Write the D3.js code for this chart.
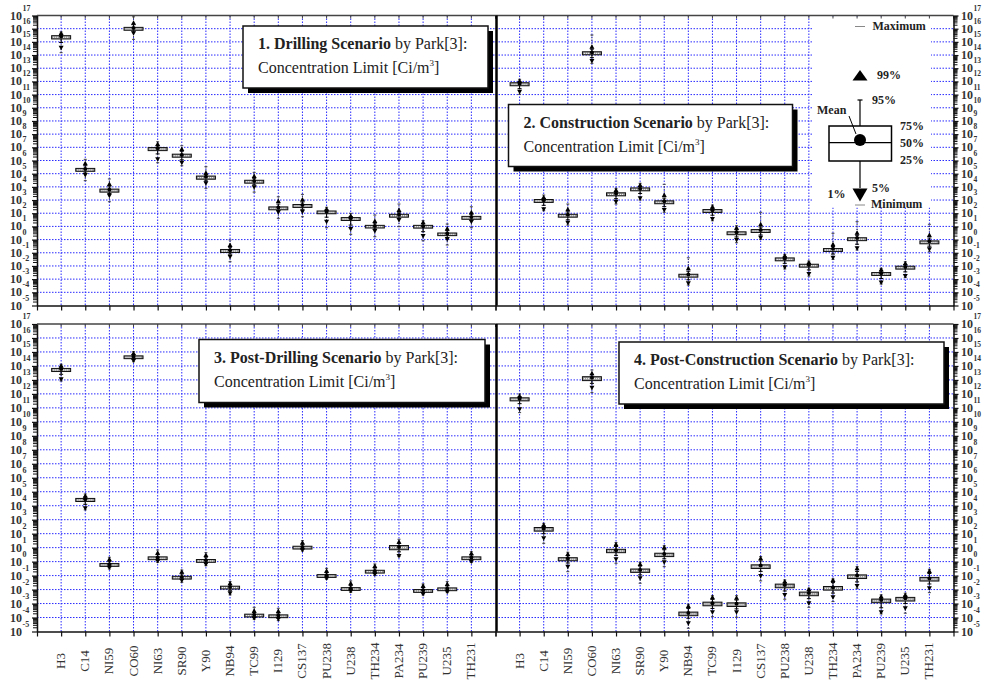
<!DOCTYPE html>
<html>
<head>
<meta charset="utf-8">
<script src="https://cdn.jsdelivr.net/npm/d3@7"></script>
<style>
  body { margin: 0; background: #fff; }
  text { font-family: "Liberation Serif", "Times New Roman", serif; }
</style>
</head>
<body>
<svg id="chart" width="982" height="686" font-family="Liberation Serif, serif"></svg>
<script>
// nuclides on the x axis
const nuclides = ["H3", "C14", "NI59", "CO60", "NI63", "SR90", "Y90", "NB94", "TC99",
  "I129", "CS137", "PU238", "U238", "TH234", "PA234", "PU239", "U235", "TH231"];

// log10 of concentration limit [Ci/m3]; each row:
// min, 1%, 5%, 25%, 50%, 75%, 95%, 99%, max, mean
const statKeys = ["min", "p1", "p5", "q25", "median", "q75", "p95", "p99", "max", "mean"];

const drilling = [
  [14.18, 14.56, 14.95, 15.22, 15.35, 15.47, 15.58, 15.65, 15.75, 15.40],
  [4.47, 4.90, 5.05, 5.18, 5.28, 5.40, 5.60, 5.79, 6.09, 5.35],
  [2.87, 3.33, 3.50, 3.60, 3.71, 3.83, 4.00, 4.22, 4.60, 3.78],
  [15.19, 15.65, 15.82, 15.88, 15.98, 16.10, 16.30, 16.45, 16.90, 16.05],
  [5.83, 6.09, 6.50, 6.75, 6.87, 6.98, 7.10, 7.25, 7.42, 6.92],
  [5.60, 5.83, 6.05, 6.25, 6.36, 6.48, 6.70, 6.87, 7.12, 6.42],
  [3.89, 4.27, 4.45, 4.58, 4.70, 4.82, 4.95, 5.07, 5.53, 4.76],
  [-1.68, -1.30, -1.10, -0.98, -0.87, -0.75, -0.58, -0.41, -0.03, -0.80],
  [3.60, 3.98, 4.15, 4.28, 4.39, 4.50, 4.65, 4.82, 5.10, 4.45],
  [1.61, 2.07, 2.20, 2.26, 2.37, 2.48, 2.70, 2.93, 3.25, 2.44],
  [1.73, 2.11, 2.30, 2.44, 2.55, 2.66, 2.85, 3.05, 3.43, 2.62],
  [0.90, 1.36, 1.70, 1.96, 2.07, 2.17, 2.25, 2.32, 2.45, 2.12],
  [0.40, 0.80, 1.10, 1.45, 1.56, 1.67, 1.75, 1.81, 1.99, 1.62],
  [0.22, 0.65, 0.80, 0.88, 0.98, 1.08, 1.25, 1.41, 1.86, 1.04],
  [0.98, 1.48, 1.60, 1.70, 1.81, 1.92, 2.08, 2.24, 2.70, 1.88],
  [-0.09, 0.27, 0.60, 0.87, 0.98, 1.08, 1.20, 1.31, 1.43, 1.02],
  [-0.41, 0.02, 0.15, 0.30, 0.40, 0.50, 0.68, 0.85, 1.18, 0.46],
  [0.90, 1.36, 1.48, 1.54, 1.65, 1.76, 1.92, 2.07, 2.49, 1.72]
];

const construction = [
  [11.02, 11.22, 11.45, 11.67, 11.78, 11.90, 11.97, 12.03, 12.16, 11.83],
  [2.19, 2.30, 2.60, 2.82, 2.93, 3.04, 3.12, 3.21, 3.38, 2.98],
  [1.10, 1.28, 1.50, 1.70, 1.81, 1.92, 2.10, 2.30, 2.70, 1.88],
  [13.37, 13.55, 13.80, 14.02, 14.13, 14.25, 14.45, 14.63, 15.52, 14.20],
  [2.70, 2.87, 3.10, 3.32, 3.43, 3.55, 3.65, 3.76, 3.89, 3.50],
  [3.00, 3.13, 3.50, 3.70, 3.81, 3.92, 4.03, 4.14, 4.27, 3.86],
  [2.07, 2.24, 2.50, 2.72, 2.83, 2.94, 3.15, 3.38, 4.19, 2.90],
  [-3.45, -3.32, -3.05, -2.85, -2.74, -2.63, -2.40, -2.18, -1.38, -2.65],
  [1.43, 1.56, 1.85, 2.06, 2.17, 2.28, 2.38, 2.49, 2.62, 2.22],
  [-0.24, -0.03, 0.20, 0.37, 0.48, 0.59, 0.75, 0.90, 1.05, 0.55],
  [0.02, 0.14, 0.35, 0.54, 0.65, 0.76, 0.95, 1.16, 2.07, 0.72],
  [-2.23, -2.10, -1.80, -1.61, -1.50, -1.39, -1.30, -1.22, -1.12, -1.44],
  [-2.77, -2.61, -2.30, -2.09, -1.98, -1.87, -1.80, -1.73, -1.63, -1.92],
  [-1.50, -1.38, -1.10, -0.90, -0.79, -0.68, -0.52, -0.36, 0.48, -0.70],
  [-0.79, -0.66, -0.35, -0.08, 0.03, 0.14, 0.33, 0.52, 1.36, 0.12],
  [-3.37, -3.25, -2.95, -2.72, -2.61, -2.50, -2.38, -2.26, -2.18, -2.55],
  [-2.87, -2.77, -2.45, -2.24, -2.13, -2.02, -1.90, -1.80, -1.68, -2.07],
  [-0.92, -0.73, -0.50, -0.32, -0.21, -0.10, 0.12, 0.35, 1.16, -0.12]
];

const postDrilling = [
  [12.92, 13.04, 13.40, 13.60, 13.71, 13.82, 13.93, 14.02, 14.12, 13.78],
  [3.70, 3.82, 4.10, 4.30, 4.41, 4.52, 4.62, 4.72, 4.84, 4.46],
  [-0.53, -0.43, -0.38, -0.34, -0.24, -0.14, 0.02, 0.17, 0.31, -0.18],
  [14.30, 14.38, 14.45, 14.52, 14.62, 14.72, 14.82, 14.90, 15.02, 14.66],
  [-0.05, 0.05, 0.10, 0.14, 0.24, 0.34, 0.50, 0.64, 0.83, 0.30],
  [-1.48, -1.36, -1.28, -1.25, -1.15, -1.05, -0.88, -0.72, -0.60, -1.10],
  [-0.29, -0.19, -0.10, -0.05, 0.05, 0.15, 0.32, 0.48, 0.64, 0.10],
  [-2.38, -2.26, -2.05, -1.96, -1.86, -1.76, -1.65, -1.55, -1.43, -1.82],
  [-4.12, -4.05, -4.00, -3.96, -3.86, -3.76, -3.64, -3.51, -3.27, -3.80],
  [-4.22, -4.10, -4.05, -4.01, -3.91, -3.81, -3.68, -3.53, -3.34, -3.85],
  [0.76, 0.83, 0.87, 0.90, 1.00, 1.10, 1.24, 1.36, 1.50, 1.05],
  [-1.26, -1.19, -1.16, -1.13, -1.03, -0.93, -0.78, -0.65, -0.48, -0.98],
  [-2.20, -2.10, -2.08, -2.06, -1.96, -1.86, -1.70, -1.55, -1.38, -1.90],
  [-0.98, -0.90, -0.85, -0.82, -0.72, -0.62, -0.46, -0.31, -0.17, -0.68],
  [0.36, 0.40, 0.70, 0.85, 1.00, 1.15, 1.30, 1.43, 1.60, 1.05],
  [-2.38, -2.31, -2.25, -2.20, -2.10, -2.00, -1.85, -1.72, -1.60, -2.05],
  [-2.22, -2.15, -2.10, -2.08, -1.98, -1.88, -1.74, -1.60, -1.43, -1.94],
  [-0.07, 0.00, 0.10, 0.14, 0.24, 0.34, 0.48, 0.60, 0.71, 0.30]
];

const postConstruction = [
  [10.66, 10.90, 11.30, 11.50, 11.61, 11.72, 11.80, 11.85, 11.99, 11.66],
  [1.31, 1.67, 2.00, 2.18, 2.31, 2.44, 2.55, 2.62, 2.74, 2.36],
  [-0.72, -0.36, -0.10, 0.06, 0.17, 0.28, 0.42, 0.55, 0.67, 0.22],
  [12.09, 12.44, 12.75, 12.95, 13.09, 13.23, 13.37, 13.47, 13.71, 13.15],
  [-0.12, 0.17, 0.45, 0.64, 0.76, 0.88, 1.08, 1.24, 1.36, 0.82],
  [-1.55, -1.19, -0.95, -0.77, -0.65, -0.53, -0.32, -0.17, -0.05, -0.60],
  [-0.36, -0.05, 0.20, 0.36, 0.48, 0.60, 0.85, 1.03, 1.14, 0.55],
  [-4.77, -4.41, -4.05, -3.87, -3.74, -3.61, -3.35, -3.17, -3.05, -3.68],
  [-3.94, -3.62, -3.35, -3.16, -3.03, -2.90, -2.70, -2.55, -2.44, -2.97],
  [-3.98, -3.62, -3.38, -3.21, -3.08, -2.95, -2.75, -2.58, -2.44, -3.02],
  [-1.38, -1.03, -0.70, -0.49, -0.36, -0.23, 0.05, 0.24, 0.36, -0.28],
  [-2.69, -2.38, -2.10, -1.87, -1.74, -1.61, -1.50, -1.43, -1.31, -1.68],
  [-3.27, -2.98, -2.65, -2.44, -2.31, -2.18, -2.06, -1.98, -1.91, -2.25],
  [-2.86, -2.55, -2.25, -2.04, -1.91, -1.78, -1.50, -1.31, -1.24, -1.85],
  [-1.91, -1.74, -1.45, -1.21, -1.08, -0.95, -0.70, -0.48, -0.36, -1.00],
  [-3.74, -3.62, -3.30, -2.94, -2.81, -2.68, -2.60, -2.50, -2.38, -2.75],
  [-3.69, -3.34, -3.00, -2.82, -2.69, -2.56, -2.46, -2.38, -2.26, -2.62],
  [-2.22, -1.91, -1.60, -1.39, -1.26, -1.13, -0.85, -0.67, -0.55, -1.20]
];

const scenarioTitles = ["1. Drilling Scenario", "2. Construction Scenario",
  "3. Post-Drilling Scenario", "4. Post-Construction Scenario"];

const svg = d3.select("#chart");

const panels = [
  { data: drilling, x0: 37, x1: 495.5, y0: 15.5, y1: 305.5,
    box: { x: 243, y: 26, w: 245, h: 62 } },
  { data: construction, x0: 495.5, x1: 953.5, y0: 15.5, y1: 305.5,
    box: { x: 508.5, y: 104.5, w: 284, h: 62 } },
  { data: postDrilling, x0: 37, x1: 495.5, y0: 324, y1: 631.5,
    box: { x: 199, y: 339.5, w: 286, h: 63 } },
  { data: postConstruction, x0: 495.5, x1: 953.5, y0: 324, y1: 631.5,
    box: { x: 619, y: 342, w: 325, h: 62 } }
];

const majors = d3.range(-5, 18).map(e => Math.pow(10, e));
const minors = [];
d3.range(-5, 17).forEach(e => d3.range(2, 10).forEach(m => minors.push(m * Math.pow(10, e))));

panels.forEach((p, pi) => {
  const x = d3.scaleLinear().domain([0, 19]).range([p.x0, p.x1]);
  const y = d3.scaleLog().domain([1e-5, 1e17]).range([p.y1, p.y0]);
  const yv = e => y(Math.pow(10, e));
  const g = svg.append("g");

  // grid
  g.selectAll(".hgrid").data(d3.range(-4, 17)).enter().append("line")
    .attr("x1", p.x0).attr("x2", p.x1)
    .attr("y1", d => yv(d)).attr("y2", d => yv(d))
    .attr("stroke", "#2a2aff").attr("stroke-width", 1).attr("stroke-dasharray", "1.5,1.5");
  g.selectAll(".vgrid").data(d3.range(1, 19)).enter().append("line")
    .attr("x1", d => x(d)).attr("x2", d => x(d))
    .attr("y1", p.y0).attr("y2", p.y1)
    .attr("stroke", "#2a2aff").attr("stroke-width", 1).attr("stroke-dasharray", "1.5,1.5");

  // legend background (construction panel)
  if (pi === 1) {
    g.append("rect").attr("x", 812).attr("y", 16.5).attr("width", 119).attr("height", 191)
      .attr("fill", "#fff");
  }

  const rows = p.data.map((r, i) => {
    const o = { name: nuclides[i], pos: i + 1 };
    statKeys.forEach((k, j) => o[k] = r[j]);
    return o;
  });

  const bx = g.selectAll(".bp").data(rows).enter().append("g");

  // min..max dotted
  bx.append("line")
    .attr("x1", d => x(d.pos)).attr("x2", d => x(d.pos))
    .attr("y1", d => yv(d.min)).attr("y2", d => yv(d.max))
    .attr("stroke", "#333").attr("stroke-width", 1).attr("stroke-dasharray", "1,1.5");
  // 5%..95% whisker
  bx.append("line")
    .attr("x1", d => x(d.pos)).attr("x2", d => x(d.pos))
    .attr("y1", d => yv(d.p5)).attr("y2", d => yv(d.p95))
    .attr("stroke", "#000").attr("stroke-width", 1);
  ["p5", "p95"].forEach(k => {
    bx.append("line")
      .attr("x1", d => x(d.pos) - 2).attr("x2", d => x(d.pos) + 2)
      .attr("y1", d => yv(d[k])).attr("y2", d => yv(d[k]))
      .attr("stroke", "#000").attr("stroke-width", 1);
  });
  ["min", "max"].forEach(k => {
    bx.append("line")
      .attr("x1", d => x(d.pos) - 1.5).attr("x2", d => x(d.pos) + 1.5)
      .attr("y1", d => yv(d[k])).attr("y2", d => yv(d[k]))
      .attr("stroke", "#444").attr("stroke-width", 1);
  });
  // box 25%..75%
  bx.append("rect")
    .attr("x", d => x(d.pos) - 9.5).attr("width", 19)
    .attr("y", d => yv(d.q75)).attr("height", d => yv(d.q25) - yv(d.q75))
    .attr("fill", "#999").attr("stroke", "#111").attr("stroke-width", 1);
  bx.append("line")
    .attr("x1", d => x(d.pos) - 8).attr("x2", d => x(d.pos) + 8)
    .attr("y1", d => yv(d.median)).attr("y2", d => yv(d.median))
    .attr("stroke", "#fff").attr("stroke-width", 1).attr("stroke-dasharray", "1,1");
  // 1% / 99% triangles
  bx.append("path")
    .attr("d", d => { const cx = x(d.pos), cy = yv(d.p99); return `M${cx - 2.5},${cy + 2} L${cx + 2.5},${cy + 2} L${cx},${cy - 2.5} Z`; })
    .attr("fill", "#000");
  bx.append("path")
    .attr("d", d => { const cx = x(d.pos), cy = yv(d.p1); return `M${cx - 2.5},${cy - 2} L${cx + 2.5},${cy - 2} L${cx},${cy + 2.5} Z`; })
    .attr("fill", "#000");
  // mean
  bx.append("circle")
    .attr("cx", d => x(d.pos)).attr("cy", d => yv(d.mean)).attr("r", 2)
    .attr("fill", "#000");

  // frame: top line
  g.append("line").attr("x1", p.x0).attr("x2", p.x1).attr("y1", p.y0).attr("y2", p.y0)
    .attr("stroke", "#444").attr("stroke-width", 1.5);
  g.selectAll(".ttick").data(d3.range(0, 20)).enter().append("line")
    .attr("x1", d => x(d)).attr("x2", d => x(d)).attr("y1", p.y0).attr("y2", p.y0 + 3)
    .attr("stroke", "#444");

  // bottom axis
  const xAxis = g.append("g").attr("transform", `translate(0,${p.y1})`)
    .call(d3.axisBottom(x).tickValues(d3.range(0, 20)).tickSize(5).tickSizeOuter(0).tickFormat(""));
  xAxis.select(".domain").attr("stroke", "#111").attr("stroke-width", 1.5);
  xAxis.selectAll(".tick line").attr("stroke", "#111").attr("stroke-width", 1.2);

  // vertical axes
  const outer = pi % 2 === 0;
  const axisX = outer ? p.x0 : p.x1;
  const makeAxis = outer ? d3.axisLeft : d3.axisRight;
  const yMaj = g.append("g").attr("transform", `translate(${axisX},0)`)
    .call(makeAxis(y).tickValues(majors).tickSize(5).tickSizeOuter(0).tickFormat(""));
  yMaj.select(".domain").attr("stroke", "#111").attr("stroke-width", 1.5);
  yMaj.selectAll(".tick line").attr("stroke", "#111").attr("stroke-width", 1.2);
  const yMin = g.append("g").attr("transform", `translate(${axisX},0)`)
    .call(makeAxis(y).tickValues(minors).tickSize(4).tickSizeOuter(0).tickFormat(""));
  yMin.select(".domain").remove();
  yMin.selectAll(".tick line").attr("stroke", "#111");

  // decade labels 10^n
  const lab = g.selectAll(".ylab").data(d3.range(-5, 18)).enter().append("text")
    .attr("y", d => yv(d) + 4)
    .attr("font-size", 12).attr("font-weight", "bold").attr("fill", "#333");
  if (outer) {
    lab.attr("x", 22).attr("text-anchor", "end").text("10");
    g.selectAll(".yexp").data(d3.range(-5, 18)).enter().append("text")
      .attr("x", 22.5).attr("y", d => yv(d) - 5)
      .attr("font-size", 8).attr("font-weight", "bold").attr("fill", "#333")
      .text(d => d);
  } else {
    lab.attr("x", 961).text("10");
    g.selectAll(".yexp").data(d3.range(-5, 18)).enter().append("text")
      .attr("x", 973.5).attr("y", d => yv(d) - 5)
      .attr("font-size", 7.5).attr("font-weight", "bold").attr("fill", "#333")
      .text(d => d);
  }

  // nuclide labels under the lower panels
  if (pi >= 2) {
    g.selectAll(".xlab").data(rows).enter().append("text")
      .attr("transform", d => `translate(${x(d.pos) + 4},661) rotate(-90)`)
      .attr("text-anchor", "middle")
      .attr("font-size", 13).attr("fill", "#333")
      .text(d => d.name);
  }

  // scenario title box
  const b = p.box;
  g.append("rect").attr("x", b.x + 5).attr("y", b.y + 5).attr("width", b.w).attr("height", b.h)
    .attr("fill", "#000");
  g.append("rect").attr("x", b.x).attr("y", b.y).attr("width", b.w).attr("height", b.h)
    .attr("fill", "#fff").attr("stroke", "#111").attr("stroke-width", 1.5);
  const t1 = g.append("text").attr("x", b.x + 15).attr("y", b.y + 23).attr("font-size", 16).attr("fill", "#222");
  t1.append("tspan").attr("font-weight", "bold").text(scenarioTitles[pi]);
  t1.append("tspan").text(" by Park[3]:");
  const t2 = g.append("text").attr("x", b.x + 15).attr("y", b.y + 47).attr("font-size", 16).attr("fill", "#222");
  t2.append("tspan").text("Concentration Limit [Ci/m");
  t2.append("tspan").attr("font-size", 9).attr("dy", -7).text("3");
  t2.append("tspan").attr("dy", 7).text("]");
});

// middle divider
svg.append("line").attr("x1", 496.5).attr("x2", 496.5).attr("y1", 15.5).attr("y2", 305.5)
  .attr("stroke", "#000").attr("stroke-width", 2.5);
svg.append("line").attr("x1", 496.5).attr("x2", 496.5).attr("y1", 324).attr("y2", 631.5)
  .attr("stroke", "#000").attr("stroke-width", 2.5);

// legend
const lg = svg.append("g").attr("font-size", 12).attr("font-weight", "bold").attr("fill", "#222");
lg.append("line").attr("x1", 855).attr("x2", 865).attr("y1", 26.5).attr("y2", 26.5).attr("stroke", "#888");
lg.append("text").attr("x", 872.5).attr("y", 30).text("Maximum");
lg.append("path").attr("d", "M852.5,80.5 L867.5,80.5 L860,70 Z").attr("fill", "#000");
lg.append("text").attr("x", 877).attr("y", 79).text("99%");
lg.append("line").attr("x1", 857.5).attr("x2", 862.5).attr("y1", 100).attr("y2", 100).attr("stroke", "#000").attr("stroke-width", 1.2);
lg.append("line").attr("x1", 860).attr("x2", 860).attr("y1", 100).attr("y2", 188).attr("stroke", "#000").attr("stroke-width", 1.2);
lg.append("text").attr("x", 872).attr("y", 104).text("95%");
lg.append("rect").attr("x", 829).attr("y", 126).attr("width", 62.5).attr("height", 35)
  .attr("fill", "#fff").attr("stroke", "#000").attr("stroke-width", 1.5);
lg.append("line").attr("x1", 829).attr("x2", 891.5).attr("y1", 142.7).attr("y2", 142.7).attr("stroke", "#000").attr("stroke-width", 1.2);
lg.append("circle").attr("cx", 860).attr("cy", 140).attr("r", 6).attr("fill", "#000");
lg.append("text").attr("x", 817).attr("y", 114).text("Mean");
lg.append("line").attr("x1", 849).attr("y1", 116).attr("x2", 856).attr("y2", 134).attr("stroke", "#000");
lg.append("text").attr("x", 900).attr("y", 130).text("75%");
lg.append("text").attr("x", 900).attr("y", 147).text("50%");
lg.append("text").attr("x", 900).attr("y", 164).text("25%");
lg.append("path").attr("d", "M852.5,188.5 L867.5,188.5 L860,201.5 Z").attr("fill", "#000");
lg.append("text").attr("x", 872).attr("y", 192).text("5%");
lg.append("text").attr("x", 827.5).attr("y", 198).text("1%");
lg.append("line").attr("x1", 855).attr("x2", 865).attr("y1", 205).attr("y2", 205).attr("stroke", "#888");
lg.append("text").attr("x", 871).attr("y", 208).text("Minimum");
</script>
</body>
</html>
